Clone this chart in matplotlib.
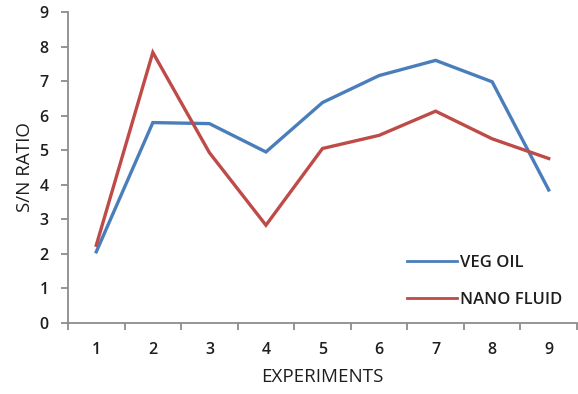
import numpy as np
import matplotlib
matplotlib.use("Agg")
import matplotlib.pyplot as plt

# S/N ratio per experiment run
experiments = [1, 2, 3, 4, 5, 6, 7, 8, 9]
veg_oil = [2.06, 5.80, 5.77, 4.95, 6.38, 7.16, 7.60, 6.98, 3.85]
nano_fluid = [2.25, 7.83, 4.93, 2.83, 5.05, 5.43, 6.13, 5.33, 4.76]
y_ticks = [0, 1, 2, 3, 4, 5, 6, 7, 8, 9]

BLUE = "#4A7EBB"
RED = "#BE4B48"
AXIS = "#8C8C8C"
TEXT = "#1E1E1E"

plt.rcParams["font.family"] = ["Open Sans", "DejaVu Sans"]

fig = plt.figure(figsize=(5.78, 3.94), dpi=100)
fig.patch.set_facecolor("white")
ax = fig.add_axes([68 / 578, 1 - 323 / 394, 509 / 578, 311 / 394])

ax.plot(experiments, veg_oil, color=BLUE, linewidth=2.4, label="VEG OIL",
        solid_joinstyle="miter")
ax.plot(experiments, nano_fluid, color=RED, linewidth=2.4, label="NANO FLUID",
        solid_joinstyle="miter")

ax.set_xlim(0.5, 9.5)
ax.set_ylim(0, 9)
ax.set_yticks(y_ticks)
ax.set_xticks(experiments)
ax.set_xticks(np.arange(0.5, 10, 1), minor=True)

ax.spines["top"].set_visible(False)
ax.spines["right"].set_visible(False)
for side in ("left", "bottom"):
    ax.spines[side].set_color(AXIS)
    ax.spines[side].set_linewidth(1.3)

ax.tick_params(axis="y", direction="out", length=5, width=1.3, color=AXIS,
               labelsize=11.5, labelcolor=TEXT, pad=9)
ax.tick_params(axis="x", which="major", length=0, labelsize=11.5,
               labelcolor=TEXT, pad=14)
ax.tick_params(axis="x", which="minor", direction="out", length=5, width=1.3,
               color=AXIS)
for lbl in ax.get_xticklabels() + ax.get_yticklabels():
    lbl.set_fontweight("semibold")

ax.set_xlabel("EXPERIMENTS", fontsize=13.5, color=TEXT, labelpad=7)
ax.set_ylabel("S/N RATIO", fontsize=13.5, color=TEXT, labelpad=4)

leg = ax.legend(loc="lower right", bbox_to_anchor=(1.0, 0.0), frameon=False,
                fontsize=12, handlelength=3.0, handletextpad=0.15,
                labelspacing=1.25, labelcolor=TEXT,
                prop={"size": 12, "weight": "semibold"})
for line in leg.get_lines():
    line.set_linewidth(2.0)

fig.savefig("out.png", dpi=100, facecolor="white")
plt.close(fig)
